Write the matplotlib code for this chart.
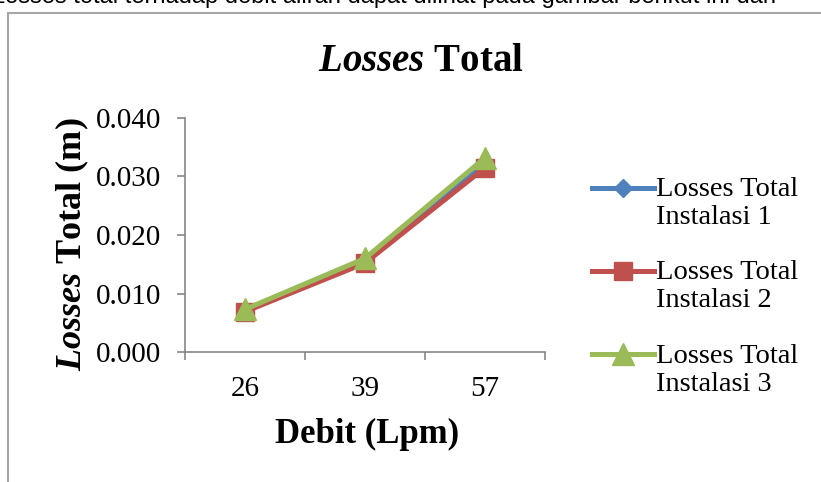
import matplotlib.pyplot as plt
from matplotlib.patches import Rectangle
import numpy as np

# data dari grafik
debit = ["26", "39", "57"]
instalasi1 = [0.0071, 0.0156, 0.0321]
instalasi2 = [0.0069, 0.0152, 0.0315]
instalasi3 = [0.0073, 0.0160, 0.0332]
label_seri = ["Losses Total\nInstalasi 1", "Losses Total\nInstalasi 2", "Losses Total\nInstalasi 3"]
yticks = [0.000, 0.010, 0.020, 0.030, 0.040]

plt.rcParams["font.family"] = ["Liberation Serif", "DejaVu Serif"]
plt.rcParams["mathtext.fontset"] = "custom"
plt.rcParams["mathtext.rm"] = "Liberation Serif:bold"
plt.rcParams["mathtext.bfit"] = "Liberation Serif:bold:italic"

fig = plt.figure(figsize=(8.21, 4.82), dpi=100)
ax = fig.add_axes([0.2253, 0.2697, 0.4385, 0.4855])

x = np.arange(len(debit))
ax.plot(x, instalasi1, color="#4F81BD", lw=3.6, marker="D", ms=9, label=label_seri[0])
ax.plot(x, instalasi2, color="#C0504D", lw=3.6, marker="s", ms=13, label=label_seri[1])
ax.plot(x, instalasi3, color="#9BBB59", lw=3.6, marker="^", ms=16, label=label_seri[2])

ax.set_xlim(-0.5, 2.5)
ax.set_ylim(0, 0.04)
ax.set_yticks(yticks)
ax.set_yticklabels(["%.3f" % v for v in yticks], fontsize=21)
ax.set_xticks([-0.5, 0.5, 1.5, 2.5])
ax.set_xticklabels([])
ax.set_xticks(x, minor=True)
ax.set_xticklabels(debit, minor=True, fontsize=21)
ax.tick_params(axis="x", which="minor", length=0, pad=17)
ax.tick_params(axis="both", which="major", length=6, width=1.2, color="#868686", direction="out")
ax.tick_params(axis="y", pad=11)

for s in ["top", "right"]:
    ax.spines[s].set_visible(False)
for s in ["left", "bottom"]:
    ax.spines[s].set_color("#868686")
    ax.spines[s].set_linewidth(1.2)

# judul dan label sumbu
fig.text(0.513, 0.873, r"$\mathbfit{Losses}$ Total", ha="center", va="center", fontsize=28, fontweight="bold")
fig.text(0.447, 0.098, "Debit (Lpm)", ha="center", va="center", fontsize=25, fontweight="bold")
fig.text(0.088, 0.494, r"$\mathbfit{Losses}$ Total (m)", ha="center", va="center", rotation=90, fontsize=26, fontweight="bold")

leg = fig.legend(loc="upper left", bbox_to_anchor=(0.707, 0.657), frameon=False, fontsize=20.5,
                 handlelength=2.2, handletextpad=0.05, labelspacing=1.06, borderaxespad=0)
for t in leg.get_texts():
    t.set_linespacing(1.17)
# garis legenda sejajar baris pertama
for h in leg.legend_handles:
    h.set_ydata(np.asarray(h.get_ydata()) + 11)

# bingkai dan teks terpotong di atas
fig.patches.append(Rectangle((8 / 821, -0.2), 1.2, 1.2 - 13 / 482, transform=fig.transFigure,
                             fill=False, ec="#a6a6a6", lw=1.5))
fig.text(-0.01, 1 - 3 / 482, "Losses total terhadap debit aliran dapat dilihat pada gambar berikut ini dan",
         family="Liberation Sans", fontsize=17, va="baseline", ha="left")

fig.savefig("out.png", dpi=100)
